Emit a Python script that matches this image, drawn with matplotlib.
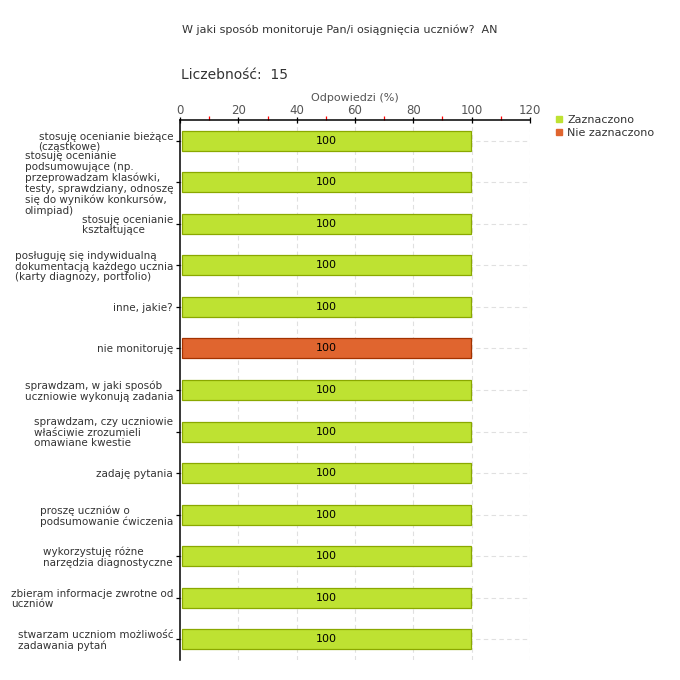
import matplotlib
matplotlib.use("Agg")
import matplotlib.pyplot as plt
from matplotlib.lines import Line2D

categories = [
    "stosuję ocenianie bieżące\n(cząstkowe)",
    "stosuję ocenianie\npodsumowujące (np.\nprzeprowadzam klasówki,\ntesty, sprawdziany, odnoszę\nsię do wyników konkursów,\nolimpiad)",
    "stosuję ocenianie\nkształtujące",
    "posługuję się indywidualną\ndokumentacją każdego ucznia\n(karty diagnozy, portfolio)",
    "inne, jakie?",
    "nie monitoruję",
    "sprawdzam, w jaki sposób\nuczniowie wykonują zadania",
    "sprawdzam, czy uczniowie\nwłaściwie zrozumieli\nomawiane kwestie",
    "zadaję pytania",
    "proszę uczniów o\npodsumowanie ćwiczenia",
    "wykorzystuję różne\nnarzędzia diagnostyczne",
    "zbieram informacje zwrotne od\nuczniów",
    "stwarzam uczniom możliwość\nzadawania pytań",
]
zaznaczono = [100, 100, 100, 100, 100, 0, 100, 100, 100, 100, 100, 100, 100]
nie_zaznaczono = [0, 0, 0, 0, 0, 100, 0, 0, 0, 0, 0, 0, 0]
series_names = ["Zaznaczono", "Nie zaznaczono"]
x_ticks = [0, 20, 40, 60, 80, 100, 120]
title = "W jaki sposób monitoruje Pan/i osiągnięcia uczniów?  AN"
count_text = "Liczebność:  15"
x_label = "Odpowiedzi (%)"

green, green_edge = "#bee232", "#8aa800"
orange, orange_edge = "#e0652f", "#a33200"
txt = "#333333"

fig = plt.figure(figsize=(6.8, 6.8), dpi=100)
ax = fig.add_axes([180/680, 1-660/680, 350/680, 540/680])

n = len(categories)
ys = list(range(n))
h = 0.48
off = 0.6
for series, fc, ec in ((zaznaczono, green, green_edge), (nie_zaznaczono, orange, orange_edge)):
    for y, v in zip(ys, series):
        if v > 0:
            ax.barh(y, v - 0.9, height=h, left=off, color=fc, edgecolor=ec, linewidth=0.9, zorder=3)
            ax.text(off + (v - 0.9) / 2, y, f"{v}", ha="center", va="center",
                    fontsize=8, color="black", zorder=4)

ax.set_xlim(0, 120)
ax.set_ylim(n - 0.5, -0.5)

# grid
for xv in x_ticks[1:]:
    ax.axvline(xv, color="#e0e0e0", lw=0.8, ls=(0, (4, 3)), zorder=1)
for y in ys:
    ax.axhline(y, color="#e0e0e0", lw=0.8, ls=(0, (4, 3)), zorder=1)

ax.xaxis.set_ticks_position("top")
ax.xaxis.set_label_position("top")
ax.set_xticks(x_ticks)
ax.set_xticks([10, 30, 50, 70, 90, 110], minor=True)
ax.tick_params(axis="x", which="major", direction="inout", length=5, width=0.9, colors="black",
               labelcolor="#555555", labelsize=8.5, pad=0)
ax.tick_params(axis="x", which="minor", direction="out", length=3, width=0.9, color="red")
ax.set_xlabel(x_label, fontsize=8, color="#555555", labelpad=2)

ax.set_yticks(ys)
ax.set_yticklabels(categories, fontsize=7.5, color=txt, multialignment="left", linespacing=1.08)
ax.tick_params(axis="y", direction="out", length=3, width=0.9, pad=2)

for s in ["right", "bottom"]:
    ax.spines[s].set_visible(False)
ax.spines["top"].set_linewidth(1.1)
ax.spines["left"].set_linewidth(1.1)

fig.text(182/680, 1-30/680, title, fontsize=8, color=txt, va="center", ha="left")
fig.text(181/680, 1-75/680, count_text, fontsize=10, color=txt, va="center", ha="left")

handles = [Line2D([], [], marker="s", ls="none", markersize=5, markerfacecolor=green, markeredgecolor=green),
           Line2D([], [], marker="s", ls="none", markersize=5, markerfacecolor=orange, markeredgecolor=orange)]
fig.legend(handles, series_names, loc="upper left", bbox_to_anchor=(555/680, 1-115/680), frameon=False,
           fontsize=8, labelcolor=txt, handlelength=0.8, handletextpad=0.3, labelspacing=0.25, borderaxespad=0,
           borderpad=0)

fig.savefig("out.png", dpi=100, facecolor="white")
